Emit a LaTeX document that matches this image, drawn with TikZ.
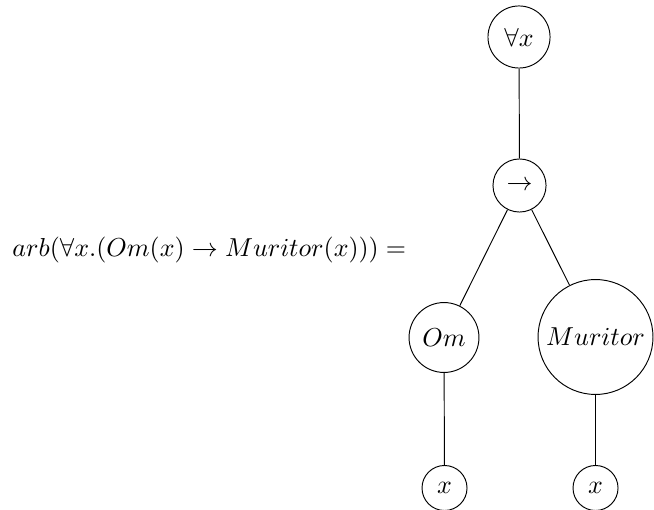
\documentclass[tikz,border=0pt]{standalone}
\begin{document}
\begin{tikzpicture}[x=0.422pt,y=-0.422pt,
  every node/.style={font=\fontsize{10.95}{13.6}\selectfont},
  tnode/.style={draw,circle,inner sep=0pt,line width=0.4pt}]
\useasboundingbox (0,0) rectangle (654,510);
\node[tnode,minimum size=26.2pt] (all) at (519,37) {$\forall x$};
\node[tnode,minimum size=22.4pt] (imp) at (519.5,185.5) {$\rightarrow$};
\node[tnode,minimum size=29.5pt] (om) at (444,337.5) {$Om$};
\node[tnode,minimum size=48.5pt] (mur) at (595.5,337) {$Muritor$};
\node[tnode,minimum size=19pt] (x1) at (444.5,488) {$x$};
\node[tnode,minimum size=19pt] (x2) at (595.5,488) {$x$};
\node[anchor=base west,inner sep=0pt] (lbl) at (12,257) {$arb(\forall x.(Om(x)\rightarrow Muritor(x)))=$};
\draw (all) -- (imp);
\draw (imp) -- (om);
\draw (imp) -- (mur);
\draw (om) -- (x1);
\draw (mur) -- (x2);
\end{tikzpicture}
\end{document}
